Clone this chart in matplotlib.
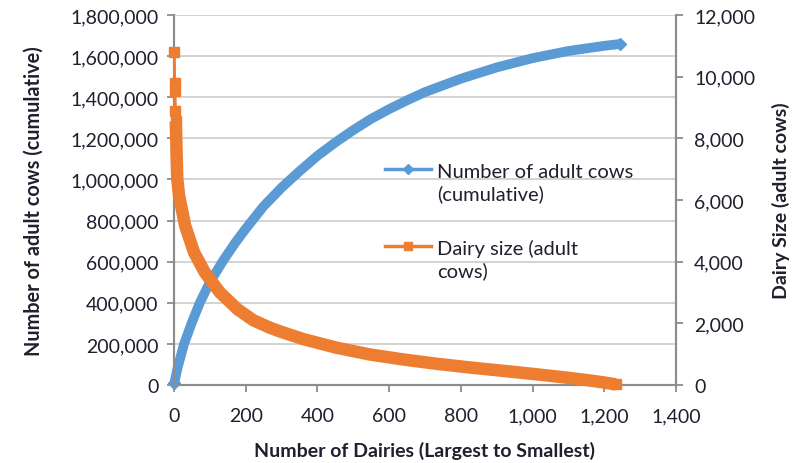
import numpy as np
import matplotlib
matplotlib.use("Agg")
import matplotlib.pyplot as plt
from matplotlib.lines import Line2D
from matplotlib.legend_handler import HandlerLine2D
from matplotlib.ticker import FuncFormatter

plt.rcParams["font.family"] = ["Lato", "DejaVu Sans"]

# Dairy size (adult cows), largest to smallest
size_rank = [1, 2, 3, 4, 5, 6, 7, 8, 9, 14, 31, 56, 86, 128, 178, 221, 267,
             300, 360, 453, 546, 638, 731, 824, 917, 1009, 1102, 1150, 1195,
             1232]
dairy_size = [10800, 9800, 9550, 8900, 8550, 8100, 7600, 7150, 6700, 6150,
              5170, 4300, 3650, 3000, 2450, 2100, 1860, 1720, 1490, 1210, 990,
              830, 690, 570, 460, 350, 230, 160, 90, 20]

# Cumulative number of adult cows
cum_rank = [1, 10, 28, 50, 72, 100, 137, 170, 200, 250, 300, 350, 400, 450,
            500, 550, 600, 650, 700, 800, 900, 1000, 1100, 1200, 1243]
cum_cows = [10800, 83000, 200000, 305000, 400000, 500000, 605000, 690000,
            760000, 870000, 960000, 1040000, 1115000, 1180000, 1240000,
            1295000, 1342000, 1385000, 1425000, 1490000, 1545000, 1590000,
            1625000, 1650000, 1659000]

blue = "#5b9bd5"
orange = "#ed7d31"
text_col = "#1f1f2e"
axis_col = "#8c8c8c"
grid_col = "#d0d0d0"

fig = plt.figure(figsize=(8.08, 4.64), dpi=100)
ax1 = fig.add_axes([174 / 808, 1 - 386 / 464, (676 - 174) / 808, 370 / 464])
ax2 = ax1.twinx()

# left axis: cumulative cows
ax1.plot(cum_rank, cum_cows, color=blue, lw=7, solid_capstyle="butt",
         solid_joinstyle="round", zorder=3, clip_on=False)
ax1.plot([cum_rank[0], cum_rank[-1]], [cum_cows[0], cum_cows[-1]], ls="none",
         marker="D", ms=6.5, color=blue, zorder=3, clip_on=False)

# right axis: dairy size
ax2.plot(size_rank[:5], dairy_size[:5], color=orange, lw=2, marker="s",
         ms=7.5, zorder=3, clip_on=False)
ax2.plot(size_rank[4:], dairy_size[4:], color=orange, lw=9,
         solid_capstyle="butt", solid_joinstyle="round", zorder=3,
         clip_on=False)
ax2.plot(size_rank[-1], dairy_size[-1], ls="none", marker="s", ms=7.5,
         color=orange, zorder=3, clip_on=False)

ax1.set_xlim(0, 1400)
ax1.set_ylim(0, 1800000)
ax2.set_ylim(0, 12000)
ax1.set_xticks(np.arange(0, 1401, 200))
ax1.set_yticks(np.arange(0, 1800001, 200000))
ax2.set_yticks(np.arange(0, 12001, 2000))

comma = FuncFormatter(lambda v, p: f"{int(v):,}")
ax1.xaxis.set_major_formatter(comma)
ax1.yaxis.set_major_formatter(comma)
ax2.yaxis.set_major_formatter(comma)

ax1.grid(axis="y", color=grid_col, lw=1.3)
ax1.set_axisbelow(True)
for a in (ax1, ax2):
    for s in a.spines.values():
        s.set_color(axis_col)
        s.set_linewidth(1.5)
    a.spines["top"].set_visible(False)
    a.tick_params(colors=axis_col, labelcolor=text_col, labelsize=14,
                  length=5, width=1.3)
ax1.tick_params(axis="y", pad=6)
ax2.tick_params(axis="y", pad=8)
ax1.tick_params(axis="x", pad=11)

ax1.set_xlabel("Number of Dairies (Largest to Smallest)", fontsize=14,
               fontweight="bold", color=text_col, labelpad=12)
ax1.set_ylabel("Number of adult cows (cumulative)", fontsize=14.3,
               fontweight="bold", color=text_col, labelpad=19)
ax2.set_ylabel("Dairy Size (adult cows)", fontsize=14, fontweight="bold",
               color=text_col, labelpad=12)


class TopLineHandler(HandlerLine2D):
    # put the legend key next to the first line of a two-line label
    def create_artists(self, legend, orig_handle, xdescent, ydescent, width,
                       height, fontsize, trans):
        arts = super().create_artists(legend, orig_handle, xdescent, ydescent,
                                      width, height, fontsize, trans)
        for a in arts:
            a.set_ydata(np.asarray(a.get_ydata()) + 0.66 * fontsize)
        return arts


handles = [Line2D([], [], color=blue, lw=2.5, marker="D", ms=5),
           Line2D([], [], color=orange, lw=2.5, marker="s", ms=6)]
labels = ["Number of adult cows\n(cumulative)", "Dairy size (adult\ncows)"]
leg = ax2.legend(handles, labels, loc="upper left",
                 bbox_to_anchor=(385 / 808, 1 - 164 / 464),
                 bbox_transform=fig.transFigure, frameon=False, fontsize=14.5,
                 handlelength=2.3, handletextpad=0.3, labelspacing=1.8,
                 borderpad=0, borderaxespad=0,
                 handler_map={Line2D: TopLineHandler(numpoints=1)})
for t in leg.get_texts():
    t.set_color(text_col)
    t.set_linespacing(1.3)

fig.savefig("out.png", dpi=100)
